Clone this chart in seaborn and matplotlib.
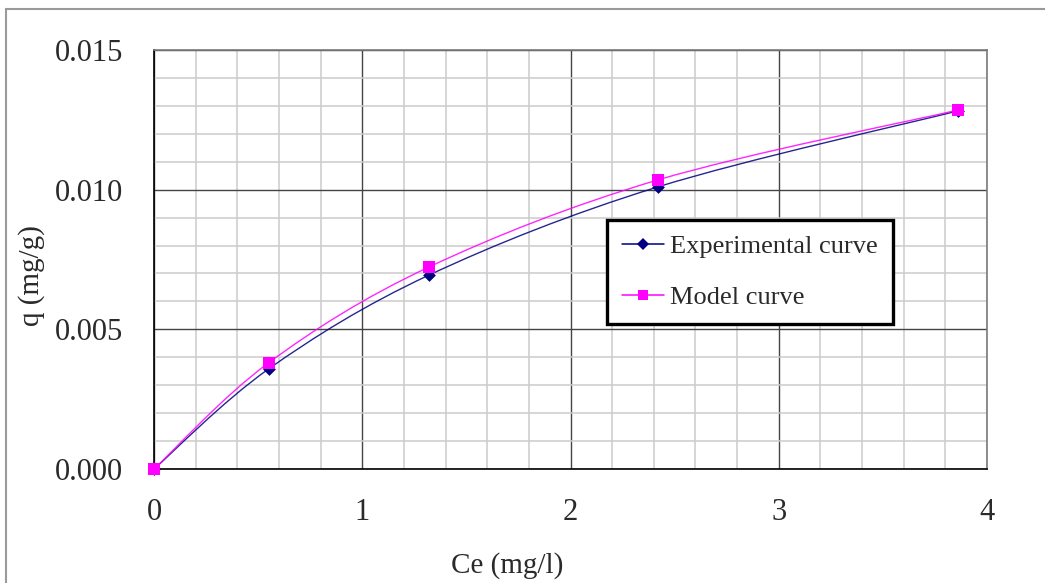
import numpy as np
import pandas as pd
import matplotlib
matplotlib.use("Agg")
import matplotlib.pyplot as plt
import seaborn as sns
from matplotlib.ticker import MultipleLocator, FormatStrFormatter
from matplotlib.path import Path
from matplotlib.patches import PathPatch, Rectangle
from matplotlib.lines import Line2D

# ---- data ----
ce_values = [0.0, 0.55, 1.32, 2.42, 3.86]
q_experimental = [0.0, 0.00358, 0.00694, 0.0101, 0.01282]
q_model = [0.0, 0.0038, 0.00723, 0.01035, 0.01285]
series_names = ["Experimental curve", "Model curve"]
x_ticks = [0, 1, 2, 3, 4]
y_ticks = [0.000, 0.005, 0.010, 0.015]

sns.set_theme(style="white")
plt.rcParams['font.family'] = ['Liberation Serif', 'DejaVu Serif']

df = pd.DataFrame({
    "Ce": ce_values * 2,
    "q": q_experimental + q_model,
    "series": [series_names[0]] * len(ce_values) + [series_names[1]] * len(ce_values),
})

colors = {series_names[0]: "#000080", series_names[1]: "#FF00FF"}
markers = {series_names[0]: "D", series_names[1]: "s"}
msizes = {series_names[0]: 6.5, series_names[1]: 8}

fig = plt.figure(figsize=(10.45, 5.83), dpi=100)
fig.patch.set_facecolor("white")
W, H = 1045, 583
ax = fig.add_axes([154 / W, 1 - 469 / H, (987 - 154) / W, (469 - 50) / H])

ax.set_xlim(0, 4)
ax.set_ylim(0, 0.015)
ax.set_xticks(x_ticks)
ax.set_yticks(y_ticks)
ax.xaxis.set_minor_locator(MultipleLocator(0.2))
ax.yaxis.set_minor_locator(MultipleLocator(0.001))
ax.yaxis.set_major_formatter(FormatStrFormatter("%.3f"))
ax.grid(which="minor", color="#cccccc", lw=1.1, zorder=0)
ax.grid(which="major", color="#444444", lw=1.0, zorder=0.5)
ax.set_axisbelow(True)
ax.tick_params(which="minor", length=0)
ax.tick_params(which="major", direction="out", length=8, width=1, color="black",
               labelsize=22, labelcolor="#2a2a2a")
ax.tick_params(axis="y", pad=14)
ax.tick_params(axis="x", pad=13)
for s in ["left", "bottom"]:
    ax.spines[s].set_color("black")
    ax.spines[s].set_linewidth(1.2)
for s in ["top", "right"]:
    ax.spines[s].set_color("#7a7a7a")
    ax.spines[s].set_linewidth(1.2)


def smooth_path(xs, ys):
    # Excel-like smoothed line: cubic Bezier segments through the data points
    pts = np.column_stack([xs, ys])
    n = len(pts)
    verts = [pts[0]]
    codes = [Path.MOVETO]
    for i in range(n - 1):
        p0 = pts[i - 1] if i > 0 else pts[i]
        p1 = pts[i]
        p2 = pts[i + 1]
        p3 = pts[i + 2] if i + 2 < n else pts[i + 1]
        c1 = p1 + (p2 - p0) / 6.0
        c2 = p2 - (p3 - p1) / 6.0
        verts += [c1, c2, p2]
        codes += [Path.CURVE4] * 3
    return Path(verts, codes)


for name, yv in zip(series_names, [q_experimental, q_model]):
    patch = PathPatch(smooth_path(ce_values, yv), fill=False,
                      edgecolor=colors[name], lw=1.0, alpha=0.85, zorder=3,
                      transform=ax.transData)
    ax.add_patch(patch)

for name in series_names:
    sub = df[df["series"] == name]
    sns.scatterplot(data=sub, x="Ce", y="q", ax=ax, color=colors[name],
                    marker=markers[name], s=msizes[name] ** 2, edgecolor=colors[name],
                    linewidth=0, zorder=4, legend=False, clip_on=False)

ax.set_xlabel("")
ax.set_ylabel("")

handles = [Line2D([], [], color=colors[n], marker=markers[n], markersize=msizes[n] * 0.9,
                  lw=1.1, markeredgewidth=0) for n in series_names]
leg = ax.legend(handles, series_names, loc="upper left",
                bbox_to_anchor=(607 / W, 1 - 220 / H), bbox_transform=fig.transFigure,
                fontsize=19, frameon=True, fancybox=False, framealpha=1,
                borderpad=0.55, labelspacing=1.05, handlelength=1.6,
                handletextpad=0.25, borderaxespad=0)
leg.get_frame().set_edgecolor("black")
leg.get_frame().set_linewidth(2.4)
for t in leg.get_texts():
    t.set_color("#2a2a2a")

fig.text(32 / W, 1 - 276 / H, "q (mg/g)", rotation=90, ha="center", va="center",
         fontsize=21, color="#2a2a2a")
fig.text(507 / W, 1 - 566 / H, "Ce (mg/l)", ha="center", va="center",
         fontsize=21, color="#2a2a2a")

fig.patches.append(Rectangle((6 / W, -0.1), 1.2, 1.1 - 9 / H, transform=fig.transFigure,
                             fill=False, edgecolor="#9a9a9a", lw=1.5))

fig.savefig("out.png", dpi=100, facecolor="white")
